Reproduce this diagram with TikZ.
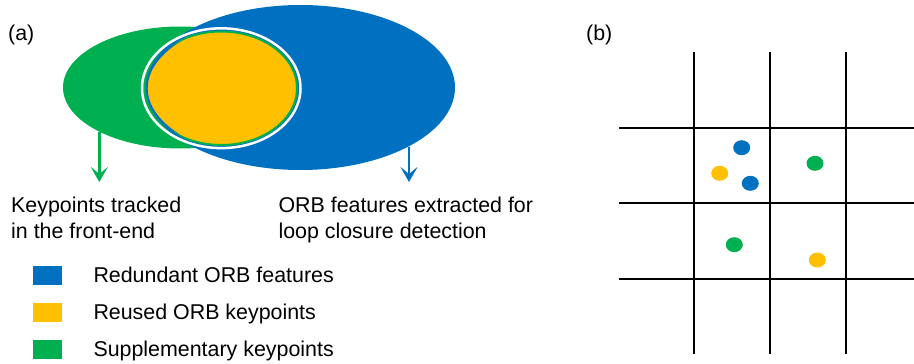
\documentclass[tikz,border=0pt]{standalone}
\usepackage{fontspec}
\setmainfont{Liberation Sans}
\usetikzlibrary{arrows.meta}
\definecolor{cblue}{HTML}{0070C0}
\definecolor{cyellow}{HTML}{FFC000}
\definecolor{cgreen}{HTML}{00B050}
\begin{document}
\begin{tikzpicture}[x=1pt,y=-1pt,
  txt/.style={inner sep=0pt, anchor=base west, font=\fontsize{21.4}{25}\selectfont},
  arr/.style={line width=2.5pt, -{Stealth[length=15pt,width=17pt,inset=7pt]}},
  gridline/.style={line width=2pt, black},
  dot/.style={x radius=8.5, y radius=7.5},
  legbox/.style={inner sep=0pt, minimum width=29pt, minimum height=19pt, anchor=north west}]
\useasboundingbox (0,0) rectangle (914,364);
% (a) Venn
\fill[cgreen] (180.25,87.5) ellipse [x radius=117.25, y radius=61];
\fill[cblue] (300.5,87.5) ellipse [x radius=154.5, y radius=82.5];
\begin{scope}
  \clip (221.25,88.25) ellipse [x radius=75.75, y radius=56.75];
  \fill[cyellow] (300,88.2) ellipse [x radius=153.3, y radius=76.5];
  \draw[cblue, line width=2pt] (300,88.2) ellipse [x radius=153.3, y radius=76.5];
\end{scope}
\begin{scope}
  \clip (300,88.2) ellipse [x radius=153.3, y radius=76.5];
  \draw[cgreen, line width=2pt] (221.25,88.25) ellipse [x radius=75.75, y radius=56.75];
\end{scope}
\draw[white, line width=2.5pt] (221.25,88.2) ellipse [x radius=79.25, y radius=59.9];
% arrows
\coordinate (ga) at (99.3,132);
\coordinate (gb) at (99.3,182);
\coordinate (ba) at (409,147);
\coordinate (bb) at (409,182);
\draw[arr, cgreen] (ga) -- (gb);
\draw[arr, cblue] (ba) -- (bb);
% labels
\node[txt] (la) at (8,40) {(a)};
\node[txt] (lb) at (586,40) {(b)};
\node[txt] (k1) at (11,212.7) {Keypoints tracked};
\node[txt] (k2) at (11,238.3) {in the front-end};
\node[txt] (o1) at (278.3,212.7) {ORB features extracted for};
\node[txt] (o2) at (278.3,238.3) {loop closure detection};
% legend
\node[legbox, fill=cblue] (s1) at (32.5,266) {};
\node[legbox, fill=cyellow] (s2) at (32.5,302.7) {};
\node[legbox, fill=cgreen] (s3) at (32.5,340) {};
\node[txt] (t1) at (93.3,282.7) {Redundant ORB features};
\node[txt] (t2) at (93.3,319.6) {Reused ORB keypoints};
\node[txt] (t3) at (93.3,356.5) {Supplementary keypoints};
% (b) grid
\foreach \x in {694.3,770,845.7} \draw[gridline] (\x,52.3) -- (\x,354.3);
\foreach \y in {127.7,203,278.7} \draw[gridline] (619,\y) -- (914,\y);
\fill[cblue] (741.7,147.7) ellipse [dot];
\fill[cyellow] (719.7,173.3) ellipse [dot];
\fill[cblue] (750.3,183.3) ellipse [dot];
\fill[cgreen] (815,163.3) ellipse [dot];
\fill[cgreen] (734.3,244.7) ellipse [dot];
\fill[cyellow] (817.3,260) ellipse [dot];
\end{tikzpicture}
\end{document}
